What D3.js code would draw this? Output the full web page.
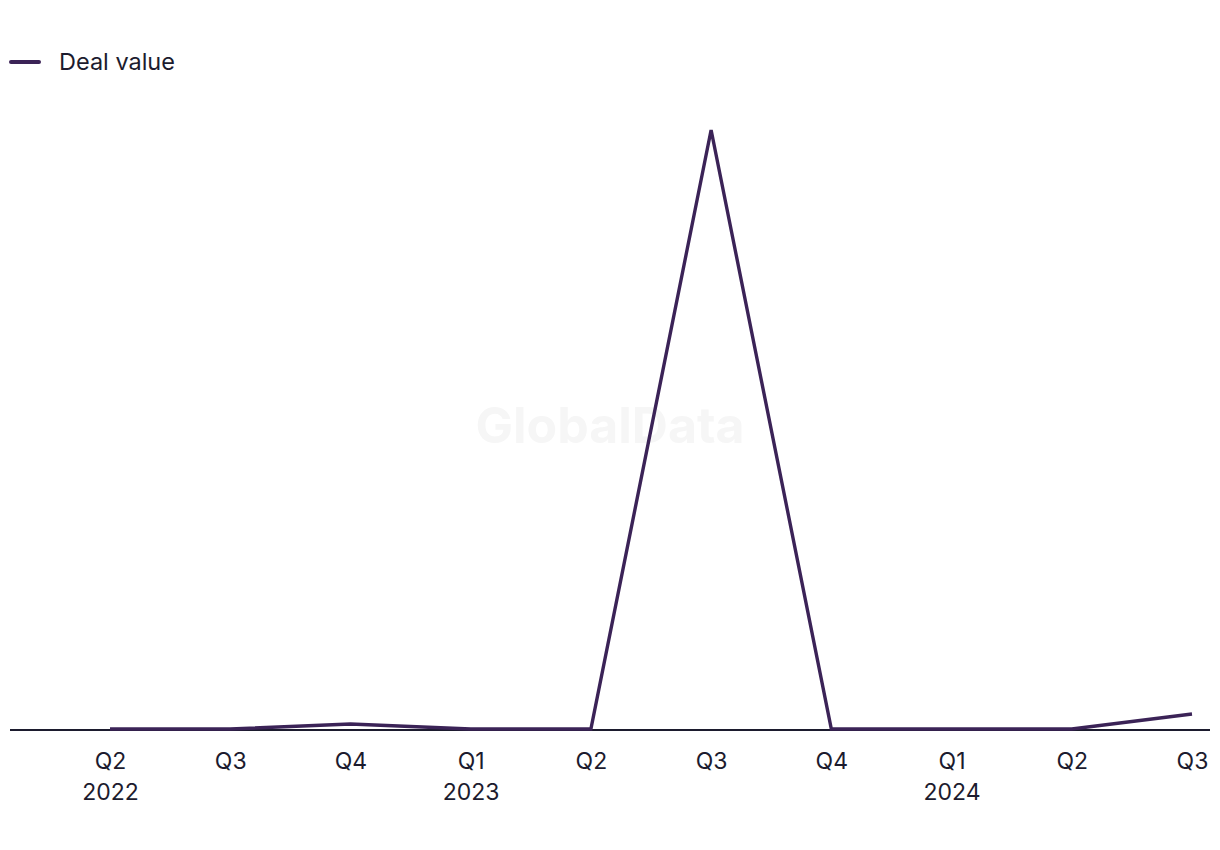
<!DOCTYPE html>
<html><head><meta charset="utf-8">
<script src="https://cdn.jsdelivr.net/npm/d3@7"></script>
<style>
html,body{margin:0;padding:0;background:#fff;}
svg text{font-family:Inter,"Noto Sans",sans-serif;}
</style></head>
<body>
<svg id="chart" width="1220" height="850"></svg>
<script>
const quarters = ["Q2","Q3","Q4","Q1","Q2","Q3","Q4","Q1","Q2","Q3"];
const years    = ["2022","","","2023","","","","2024","",""];
const dealValue = [0, 0, 20, 0, 0, 2400, 0, 0, 0, 60];
const seriesName = "Deal value";

const svg = d3.select("#chart");
const lineColor = "#3b2357";
const textColor = "#1c1b2e";

const idx = d3.range(quarters.length);
const x = d3.scalePoint().domain(idx).range([110, 1192]);
const y = d3.scaleLinear().domain([0, 2400]).range([729, 130]);

// watermark
svg.append("text").attr("x", 610).attr("y", 443).attr("text-anchor","middle")
  .attr("font-size", 50).attr("font-weight", 700).attr("fill", "#f6f6f6")
  .text("GlobalData");

// axis
const axis = d3.axisBottom(x).tickSize(0).tickFormat(() => "");
const gx = svg.append("g").attr("transform", "translate(0,730)").call(axis);
gx.select(".domain").remove();
svg.append("line").attr("x1", 10).attr("x2", 1210).attr("y1", 730).attr("y2", 730)
  .attr("stroke", textColor).attr("stroke-width", 1.8);

gx.selectAll(".tick").each(function(d){
  const t = d3.select(this);
  t.append("text").attr("y", 39).attr("text-anchor","middle").attr("fill", textColor)
    .attr("font-size", 23).text(quarters[d]);
  if (years[d]) t.append("text").attr("y", 70).attr("text-anchor","middle").attr("fill", textColor)
    .attr("font-size", 23).text(years[d]);
});

// line
const line = d3.line().x((d,i) => x(i)).y(d => y(d));
svg.append("path").datum(dealValue).attr("d", line).attr("fill","none")
  .attr("stroke", lineColor).attr("stroke-width", 3.4).attr("stroke-linejoin","miter");

// legend
const lg = svg.append("g");
lg.append("line").attr("x1", 11).attr("x2", 39).attr("y1", 62).attr("y2", 62)
  .attr("stroke", lineColor).attr("stroke-width", 4).attr("stroke-linecap","round");
lg.append("text").attr("x", 59).attr("y", 70).attr("fill", textColor).attr("font-size", 23.5)
  .text(seriesName);
</script>
</body></html>
